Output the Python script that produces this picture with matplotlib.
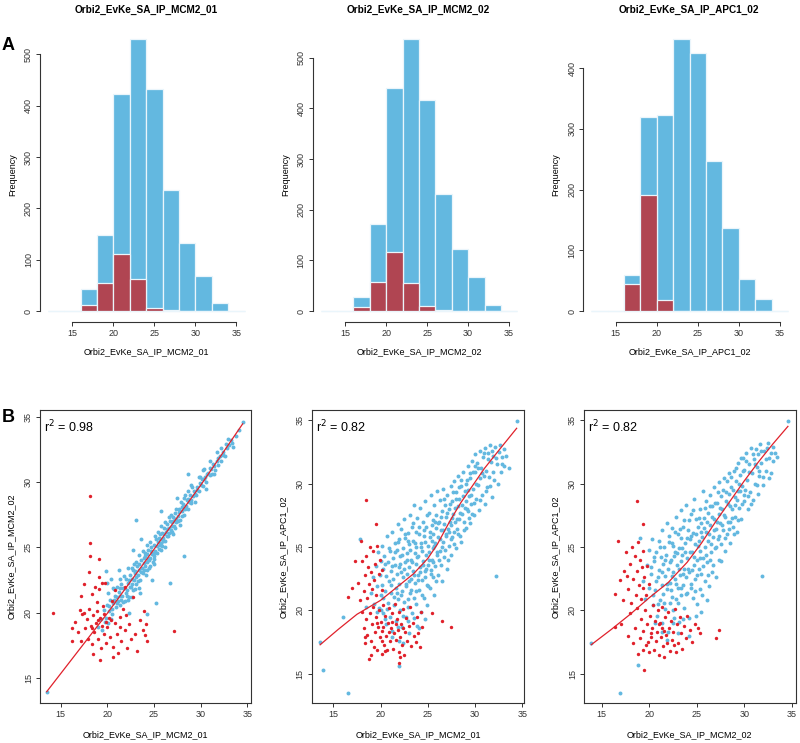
"""
Histogram + pairwise scatter panels for three Orbi2 EvKe SA IP runs.
Top row (A): intensity histograms, all proteins (blue) and flagged (red).
Bottom row (B): pairwise scatter with loess fit and r^2.
"""

import matplotlib
matplotlib.use("Agg")
import matplotlib.pyplot as plt
import numpy as np

plt.rcParams["font.family"] = ["Liberation Sans", "DejaVu Sans"]

BLUE = "#63b8e0"
RED_BAR = "#b04552"
RED_PT = "#e0212b"
EDGE = "#eaf5fb"
AXC = "#333333"

# ---------------------------------------------------------------------------
# Data
# ---------------------------------------------------------------------------

run_names = ["Orbi2_EvKe_SA_IP_MCM2_01", "Orbi2_EvKe_SA_IP_MCM2_02",
             "Orbi2_EvKe_SA_IP_APC1_02"]

bin_edges = [12, 14, 16, 18, 20, 22, 24, 26, 28, 30, 32, 34, 36]

hist_all_mcm2_01 = [1, 1, 43, 148, 422, 530, 433, 235, 133, 68, 15, 1]
hist_red_mcm2_01 = [0, 0, 12, 54, 112, 62, 7, 3, 0, 0, 0, 0]
hist_all_mcm2_02 = [0, 0, 27, 172, 441, 537, 417, 231, 122, 68, 12, 1]
hist_red_mcm2_02 = [0, 0, 8, 58, 117, 56, 10, 2, 0, 0, 0, 0]
hist_all_apc1_02 = [0, 1, 60, 320, 322, 448, 425, 247, 136, 53, 20, 1]
hist_red_apc1_02 = [0, 0, 44, 191, 18, 0, 0, 0, 0, 0, 0, 0]

hist_ymax = [500, 500, 400]

# scatter 1: MCM2_01 (x) vs MCM2_02 (y)
s1_blue = [
    (13.5, 13.9), (19.3, 19.5), (19.6, 20.2), (19.9, 19.6), (20.0, 20.6), (20.2, 20.1),
    (20.3, 21.0), (20.5, 19.9), (20.6, 20.7), (20.8, 21.3), (20.9, 20.4), (21.0, 22.0),
    (21.1, 20.9), (21.2, 21.6), (21.4, 20.6), (21.5, 22.2), (21.6, 21.3), (21.8, 21.9),
    (21.9, 20.9), (22.0, 22.6), (22.1, 21.7), (22.2, 22.3), (22.3, 21.2), (22.4, 22.9),
    (22.5, 22.0), (22.6, 22.6), (22.7, 21.7), (22.8, 23.3), (22.9, 22.5), (23.0, 23.0),
    (23.1, 22.2), (23.2, 23.6), (23.3, 22.9), (23.4, 23.3), (23.5, 22.5), (23.6, 24.0),
    (23.7, 23.4), (23.8, 23.0), (23.9, 24.2), (24.0, 23.6), (24.1, 22.9), (24.2, 24.5),
    (24.3, 23.9), (24.4, 24.8), (24.5, 23.4), (24.6, 24.2), (24.7, 25.0), (24.8, 24.5),
    (24.9, 23.9), (25.0, 25.2), (25.1, 24.7), (25.2, 25.6), (25.3, 24.6), (25.4, 25.4),
    (25.5, 24.9), (25.6, 26.0), (25.7, 25.3), (25.8, 24.8), (25.9, 26.1), (26.0, 25.7),
    (26.1, 26.5), (26.2, 25.5), (26.3, 26.2), (26.4, 26.8), (26.5, 25.9), (26.6, 26.5),
    (26.7, 27.0), (26.8, 26.3), (26.9, 26.9), (27.0, 27.3), (27.1, 26.6), (27.2, 27.2),
    (27.3, 27.6), (27.4, 26.9), (27.6, 27.4), (27.7, 27.9), (27.8, 27.1), (28.0, 27.8),
    (28.1, 28.3), (28.2, 27.5), (28.4, 28.2), (28.5, 28.6), (28.6, 27.9), (28.8, 28.5),
    (28.9, 29.0), (29.0, 28.4), (29.2, 28.9), (29.3, 29.3), (29.5, 29.0), (29.6, 29.6),
    (29.8, 29.3), (30.0, 29.8), (30.1, 30.2), (30.3, 29.7), (30.5, 30.4), (30.6, 30.0),
    (30.8, 30.7), (31.0, 30.5), (31.1, 31.0), (31.3, 31.4), (31.5, 30.9), (31.7, 31.6),
    (31.9, 31.3), (32.1, 32.0), (32.4, 32.3), (32.6, 32.0), (32.8, 32.6), (33.0, 32.8),
    (33.2, 33.2), (34.5, 34.6),
    (23.1, 27.1), (28.6, 30.6), (28.2, 24.3), (26.7, 22.3), (25.2, 20.7), (24.2, 19.9),
    (19.8, 23.2), (20.4, 22.6), (21.2, 23.3), (20.0, 22.3), (22.8, 24.8), (23.6, 25.6),
    (25.8, 27.8), (27.5, 28.8), (22.3, 20.0), (23.5, 21.5), (24.8, 22.5),
    (21.3, 21.9), (21.7, 20.8), (22.2, 21.0), (22.6, 23.4), (23.1, 23.9), (23.4, 21.9),
    (23.9, 23.3), (24.3, 25.2), (24.6, 23.6), (25.1, 25.9), (25.5, 25.7), (25.9, 25.1),
    (26.4, 25.9), (26.8, 27.5), (27.3, 26.5), (27.9, 28.5), (28.3, 29.0), (29.1, 29.6),
    (29.9, 30.4), (30.4, 31.0), (31.2, 30.6), (32.2, 31.6), (32.9, 33.3), (33.5, 32.7),
    (20.7, 21.8), (21.5, 21.0), (22.4, 22.0), (22.9, 23.7), (23.3, 22.4), (24.0, 24.6),
    (24.5, 24.0), (25.0, 24.3), (25.6, 25.2), (26.2, 26.9), (26.9, 26.2), (27.6, 27.0),
]
s1_blue_core = [
    (20.15, 20.5), (20.45, 20.3), (20.75, 21.0), (21.05, 20.7), (21.35, 21.3), (21.65, 21.9),
    (21.95, 21.5), (22.05, 21.3), (22.35, 22.5), (22.65, 22.2), (22.95, 23.2), (23.05, 22.7),
    (23.35, 23.7), (23.65, 23.1), (23.95, 23.8), (24.05, 24.3), (24.35, 24.1), (24.65, 24.7),
    (24.95, 24.6), (25.05, 24.1), (25.35, 25.1), (25.65, 25.6), (25.95, 25.5), (26.05, 26.0),
    (26.35, 26.4), (26.65, 26.1), (26.95, 26.6), (27.05, 27.0), (27.35, 27.2), (27.65, 27.7),
    (27.95, 27.4), (28.05, 28.1), (28.35, 27.9), (28.65, 28.7), (28.95, 28.6), (29.35, 29.1),
    (29.65, 29.4), (29.95, 29.9), (30.35, 30.2), (30.65, 30.6), (31.05, 31.1), (31.45, 31.2),
    (31.85, 31.8), (32.35, 32.1), (32.75, 32.9), (33.35, 33.0), (33.8, 33.5), (34.1, 34.0),
    (20.1, 21.5), (20.6, 21.9), (21.0, 21.2), (21.4, 22.6), (21.8, 22.8), (22.2, 23.4),
    (22.6, 21.2), (23.0, 21.8), (23.4, 24.4), (23.8, 24.7), (24.2, 23.3), (24.6, 25.4),
    (25.0, 23.7), (25.4, 26.2), (25.8, 26.6), (26.2, 25.0), (26.6, 27.3), (27.0, 26.0),
    (27.4, 27.9), (27.8, 26.7), (28.2, 28.8), (28.6, 29.3), (29.0, 29.8), (29.4, 28.5),
    (29.8, 30.4), (30.2, 30.9), (30.6, 29.5), (31.0, 31.6), (31.4, 30.6), (31.8, 32.3),
    (32.2, 32.6), (19.0, 18.9), (19.4, 18.7), (19.7, 19.3), (20.1, 19.2), (20.4, 19.5),
]
s1_red = [
    (18.1, 28.9), (18.1, 25.3), (18.1, 24.3), (19.1, 24.1), (18.0, 23.1), (19.1, 22.7),
    (19.4, 22.3), (17.2, 21.3), (14.2, 20.0), (16.2, 18.8), (16.2, 17.8), (16.5, 19.3),
    (17.1, 20.2), (17.3, 19.9), (17.5, 20.0), (17.6, 18.8), (17.8, 19.5), (17.9, 18.0),
    (18.0, 20.3), (18.2, 19.0), (18.3, 17.6), (18.4, 21.4), (18.5, 19.8), (18.6, 18.5),
    (18.7, 22.0), (18.8, 19.2), (18.9, 20.1), (19.0, 18.0), (19.1, 21.8), (19.2, 19.6),
    (19.3, 17.3), (19.4, 19.0), (19.5, 20.5), (19.6, 18.4), (19.7, 22.3), (19.8, 19.3),
    (19.9, 17.7), (20.0, 18.9), (20.2, 19.6), (20.3, 18.1), (20.5, 20.9), (20.6, 17.4),
    (20.8, 19.2), (21.0, 18.4), (21.1, 16.9), (21.3, 19.7), (21.5, 17.8), (21.7, 20.3),
    (21.9, 18.7), (22.1, 17.3), (22.3, 19.1), (22.5, 18.0), (22.7, 21.2), (23.0, 18.4),
    (23.2, 17.1), (23.5, 19.4), (23.8, 18.7), (24.1, 19.1), (24.3, 17.8), (27.1, 18.6),
    (18.5, 16.8), (19.2, 16.4), (20.6, 16.6), (17.2, 17.8), (16.8, 18.5), (17.5, 22.2),
    (20.8, 21.7), (21.9, 22.0), (18.9, 20.8), (19.6, 19.9), (20.4, 19.4), (18.4, 18.8),
    (19.0, 19.4), (21.4, 18.9), (22.0, 19.8), (23.9, 20.1), (24.0, 18.3),
]

# scatter 2: MCM2_01 (x) vs APC1_02 (y)
s2_blue = [
    (13.6, 17.5), (13.9, 15.3), (16.6, 13.5), (16.0, 19.5), (17.8, 25.6), (18.5, 20.3),
    (19.0, 21.4), (19.2, 22.6), (19.3, 20.5), (19.5, 23.5), (19.6, 21.9), (19.7, 24.6),
    (19.8, 20.2), (19.9, 22.8), (20.0, 23.9), (20.0, 21.2),
    (20.1, 25.1), (20.2, 22.0), (20.3, 19.8), (20.3, 23.3), (20.4, 24.3), (20.5, 21.5),
    (20.6, 22.7), (20.6, 18.9), (20.7, 25.9), (20.8, 23.8), (20.8, 20.6), (20.9, 22.3),
    (21.0, 24.7), (21.0, 19.5),
    (21.1, 21.4), (21.1, 23.1), (21.2, 26.2), (21.2, 18.4), (21.3, 22.5), (21.3, 24.1),
    (21.4, 20.4), (21.5, 25.3), (21.5, 23.6), (21.6, 21.8), (21.6, 19.2), (21.7, 24.8),
    (21.7, 22.9), (21.8, 26.8), (21.8, 20.9), (21.9, 23.4), (21.9, 17.6), (22.0, 25.6),
    (22.0, 22.1), (22.0, 15.6),
    (22.1, 24.3), (22.1, 20.0), (22.2, 23.0), (22.2, 26.4), (22.3, 21.5), (22.3, 18.7),
    (22.4, 24.9), (22.4, 22.6), (22.5, 27.2), (22.5, 20.7), (22.6, 23.8), (22.6, 25.7),
    (22.7, 21.9), (22.7, 19.5), (22.8, 24.5), (22.8, 22.9), (22.9, 26.1), (22.9, 20.3),
    (23.0, 23.4), (23.0, 25.2), (23.0, 18.2),
    (23.1, 21.4), (23.1, 27.5), (23.2, 24.0), (23.2, 22.5), (23.3, 26.6), (23.3, 19.8),
    (23.4, 23.1), (23.4, 25.5), (23.5, 21.0), (23.5, 28.3), (23.6, 24.5), (23.6, 22.2),
    (23.7, 26.2), (23.7, 20.5), (23.8, 23.7), (23.8, 25.0), (23.9, 18.8), (23.9, 27.3),
    (24.0, 22.8), (24.0, 24.3),
    (24.1, 26.0), (24.1, 21.6), (24.2, 23.4), (24.2, 28.1), (24.3, 25.3), (24.3, 19.9),
    (24.4, 24.7), (24.4, 22.4), (24.5, 27.0), (24.5, 23.9), (24.6, 21.0), (24.6, 25.9),
    (24.7, 23.1), (24.7, 28.6), (24.8, 24.4), (24.8, 26.6), (24.9, 22.0), (24.9, 20.4),
    (25.0, 25.1), (25.0, 23.6),
    (25.1, 27.7), (25.1, 24.6), (25.2, 21.8), (25.2, 26.2), (25.3, 23.2), (25.3, 29.1),
    (25.4, 25.5), (25.4, 24.0), (25.5, 27.1), (25.5, 22.6), (25.6, 26.0), (25.6, 24.9),
    (25.7, 28.3), (25.7, 21.2), (25.8, 25.3), (25.8, 23.5), (25.9, 27.5), (25.9, 26.5),
    (26.0, 24.4), (26.0, 29.4),
    (26.1, 25.8), (26.1, 22.8), (26.2, 27.0), (26.3, 24.7), (26.3, 28.7), (26.4, 26.3),
    (26.4, 23.6), (26.5, 27.8), (26.6, 25.4), (26.6, 29.6), (26.7, 26.8), (26.7, 24.2),
    (26.8, 28.3), (26.9, 25.9), (26.9, 27.4), (27.0, 23.3), (27.0, 29.1),
    (27.1, 26.4), (27.2, 28.0), (27.2, 25.1), (27.3, 27.0), (27.4, 29.8), (27.4, 24.4),
    (27.5, 26.7), (27.6, 28.6), (27.6, 25.8), (27.7, 27.6), (27.8, 30.2), (27.8, 26.2),
    (27.9, 28.1), (28.0, 24.9), (28.0, 29.3),
    (28.1, 27.2), (28.2, 30.6), (28.2, 26.0), (28.3, 28.8), (28.4, 27.7), (28.5, 29.8),
    (28.5, 25.4), (28.6, 28.3), (28.7, 30.9), (28.8, 27.0), (28.9, 29.4), (29.0, 26.5),
    (29.0, 28.6),
    (29.1, 30.3), (29.2, 27.8), (29.3, 31.4), (29.4, 29.0), (29.5, 26.9), (29.5, 30.8),
    (29.6, 28.4), (29.7, 31.8), (29.8, 29.6), (29.9, 27.5), (30.0, 30.9), (30.0, 32.3),
    (30.1, 28.8), (30.2, 31.6), (30.3, 29.9), (30.4, 27.9), (30.5, 32.6), (30.5, 30.4),
    (30.6, 31.2), (30.7, 29.1), (30.8, 32.1), (30.9, 30.6), (31.0, 28.4),
    (31.1, 32.8), (31.2, 31.0), (31.3, 29.7), (31.4, 32.4), (31.5, 30.5), (31.6, 33.0),
    (31.7, 31.7), (31.8, 28.9), (31.9, 32.2), (32.0, 30.3),
    (32.1, 32.9), (32.2, 22.7), (32.3, 31.5), (32.5, 32.5), (32.7, 30.9), (32.9, 32.1),
    (33.1, 31.4), (33.3, 32.2), (33.6, 31.2), (34.4, 34.9),
]
s2_blue_core = [
    (20.25, 21.0), (20.45, 23.7), (20.65, 20.1), (20.85, 24.9), (21.05, 22.0), (21.25, 23.5),
    (21.45, 21.1), (21.55, 24.6), (21.75, 21.4), (21.85, 25.4), (22.05, 23.7), (22.15, 21.2),
    (22.25, 24.4), (22.35, 19.6), (22.45, 23.3), (22.55, 26.0), (22.65, 22.1), (22.75, 24.0),
    (22.85, 20.9), (22.95, 25.5), (23.05, 22.3), (23.15, 24.8), (23.25, 21.6), (23.35, 23.8),
    (23.45, 26.9), (23.55, 22.8), (23.65, 25.3), (23.75, 21.5), (23.85, 24.2), (23.95, 22.4),
    (24.05, 26.6), (24.15, 23.0), (24.25, 25.0), (24.35, 21.2), (24.45, 23.6), (24.55, 26.3),
    (24.65, 22.6), (24.75, 25.4), (24.85, 23.3), (24.95, 27.5), (25.05, 21.9), (25.15, 24.0),
    (25.25, 25.8), (25.35, 22.9), (25.45, 26.7), (25.55, 23.8), (25.65, 25.1), (25.75, 27.0),
    (25.85, 22.3), (25.95, 24.6), (26.05, 26.9), (26.15, 24.0), (26.25, 25.6), (26.35, 27.4),
    (26.45, 22.3), (26.55, 25.0), (26.65, 26.3), (26.75, 28.8), (26.85, 24.8), (26.95, 26.0),
    (27.05, 27.7), (27.15, 24.0), (27.25, 26.2), (27.35, 28.4), (27.45, 25.6), (27.55, 27.3),
    (27.65, 29.3), (27.75, 25.2), (27.85, 27.0), (27.95, 28.8), (28.05, 26.4), (28.15, 28.2),
    (28.25, 29.7), (28.35, 27.2), (28.45, 25.9), (28.55, 30.3), (28.65, 27.6), (28.75, 29.0),
    (28.85, 26.3), (28.95, 28.1), (29.05, 30.0), (29.15, 28.0), (29.25, 29.5), (29.35, 27.3),
    (29.45, 30.4), (29.55, 29.1), (29.65, 27.6), (29.75, 30.9), (29.85, 28.5), (29.95, 31.4),
    (30.15, 30.0), (30.35, 31.2), (30.55, 28.7), (30.75, 30.8), (30.95, 32.4), (31.15, 29.4),
    (31.35, 31.9), (31.55, 29.8), (31.75, 32.6), (31.95, 30.9), (32.25, 32.0), (32.45, 30.0),
    (32.65, 33.0), (32.85, 31.5), (33.05, 32.7),
    (20.5, 19.3), (21.2, 17.9), (21.8, 18.7), (22.4, 17.4), (22.9, 19.2), (23.5, 19.4),
    (24.1, 18.6), (24.7, 19.3), (20.0, 20.0), (19.6, 19.9),
]
s2_red = [
    (18.0, 19.9), (18.2, 18.6), (18.3, 17.4), (18.5, 19.3), (18.6, 18.1), (18.8, 16.2),
    (18.9, 19.8), (19.0, 17.6), (19.1, 18.9), (19.2, 20.3), (19.3, 17.1), (19.4, 18.3),
    (19.5, 19.5), (19.6, 16.9), (19.7, 18.7), (19.8, 20.0), (19.9, 17.9), (20.0, 19.1),
    (20.1, 16.6), (20.2, 18.4), (20.3, 20.4), (20.4, 17.3), (20.5, 19.6), (20.6, 18.0),
    (20.7, 16.9), (20.8, 19.0), (20.9, 20.2), (21.0, 17.6), (21.1, 18.6), (21.2, 19.8),
    (21.3, 17.0), (21.4, 18.2), (21.5, 20.5), (21.6, 17.7), (21.7, 19.3), (21.8, 18.5),
    (21.9, 16.7), (22.0, 19.9), (22.1, 17.9), (22.2, 18.9), (22.3, 17.3), (22.4, 20.1),
    (22.5, 16.5), (22.6, 18.3), (22.7, 19.4), (22.8, 17.6), (23.0, 18.8), (23.1, 20.3),
    (23.2, 17.2), (23.4, 19.0), (23.5, 18.0), (23.7, 17.5), (23.9, 19.5), (24.0, 18.2),
    (24.2, 17.1), (24.4, 18.7), (24.3, 19.9), (25.4, 19.8), (26.5, 19.2), (27.4, 18.7),
    (22.0, 15.9), (22.1, 16.3), (20.5, 16.8), (19.0, 16.5), (21.2, 19.1), (20.3, 18.7),
    (18.4, 17.9), (19.6, 19.0), (20.9, 18.3), (21.6, 18.9), (22.4, 18.6), (20.1, 17.6),
    (16.5, 21.1), (17.0, 21.8), (17.3, 23.9), (17.6, 22.2), (17.8, 20.8), (18.0, 23.9),
    (18.2, 21.5), (18.4, 22.8), (18.5, 24.3), (18.6, 21.0), (18.7, 23.4), (18.8, 22.1),
    (18.9, 25.0), (19.0, 23.0), (19.1, 21.7), (19.2, 24.7), (19.3, 22.4), (19.4, 23.7),
    (19.5, 21.2), (19.6, 25.1), (19.8, 22.9), (19.9, 24.0), (20.1, 23.2), (20.2, 21.6),
    (19.5, 26.8), (18.5, 28.7), (17.9, 25.5),
]

# scatter 3: MCM2_02 (x) vs APC1_02 (y)
s3_blue = [
    (13.9, 17.4), (16.9, 13.5), (18.8, 15.7), (19.0, 25.7), (19.4, 22.3), (19.6, 20.9),
    (19.8, 23.6), (20.0, 24.8), (20.0, 21.8),
    (20.2, 22.9), (20.3, 25.6), (20.4, 20.4), (20.5, 23.9), (20.6, 21.6), (20.7, 24.6),
    (20.8, 19.6), (20.9, 22.6), (21.0, 25.5), (21.0, 23.2),
    (21.1, 20.8), (21.2, 24.2), (21.3, 22.0), (21.3, 26.3), (21.4, 19.0), (21.5, 23.7),
    (21.5, 21.3), (21.6, 25.0), (21.7, 22.7), (21.7, 20.1), (21.8, 24.4), (21.9, 26.9),
    (21.9, 21.7), (22.0, 23.3), (22.0, 18.3),
    (22.1, 25.4), (22.2, 22.2), (22.2, 20.6), (22.3, 24.0), (22.4, 26.5), (22.4, 21.1),
    (22.5, 23.0), (22.5, 25.1), (22.6, 19.4), (22.7, 22.5), (22.7, 24.6), (22.8, 27.4),
    (22.8, 20.9), (22.9, 23.6), (23.0, 21.8), (23.0, 26.0),
    (23.1, 24.9), (23.1, 19.1), (23.2, 22.8), (23.3, 25.7), (23.3, 23.9), (23.4, 21.2),
    (23.4, 27.9), (23.5, 24.4), (23.6, 22.0), (23.6, 26.6), (23.7, 23.3), (23.7, 20.2),
    (23.8, 25.3), (23.9, 22.6), (23.9, 28.3), (24.0, 24.1), (24.0, 21.4),
    (24.1, 26.3), (24.2, 23.0), (24.2, 19.4), (24.3, 25.6), (24.4, 22.1), (24.4, 27.6),
    (24.5, 24.6), (24.6, 21.0), (24.6, 26.1), (24.7, 23.6), (24.7, 28.8), (24.8, 25.2),
    (24.8, 22.5), (24.9, 27.2), (25.0, 24.0), (25.0, 20.5),
    (25.1, 26.6), (25.2, 23.3), (25.2, 25.5), (25.3, 28.0), (25.3, 21.7), (25.4, 24.7),
    (25.5, 26.9), (25.5, 22.9), (25.6, 25.8), (25.7, 29.4), (25.7, 24.1), (25.8, 27.3),
    (25.9, 22.3), (25.9, 25.0), (26.0, 28.6), (26.0, 26.2),
    (26.1, 23.8), (26.2, 27.7), (26.2, 25.5), (26.3, 21.9), (26.4, 29.1), (26.4, 26.7),
    (26.5, 24.6), (26.6, 28.2), (26.6, 23.0), (26.7, 25.8), (26.8, 27.2), (26.8, 29.7),
    (26.9, 24.9), (27.0, 26.4), (27.0, 22.6),
    (27.1, 28.5), (27.2, 25.6), (27.3, 27.6), (27.3, 30.1), (27.4, 24.0), (27.5, 26.9),
    (27.6, 29.0), (27.6, 25.2), (27.7, 28.0), (27.8, 26.3), (27.9, 30.4), (28.0, 27.4),
    (28.0, 24.7),
    (28.1, 29.3), (28.2, 26.0), (28.3, 28.4), (28.4, 30.8), (28.5, 27.0), (28.5, 25.3),
    (28.6, 29.7), (28.7, 28.0), (28.8, 26.6), (28.9, 31.0), (29.0, 28.9), (29.0, 27.4),
    (29.1, 30.2), (29.2, 26.2), (29.3, 29.4), (29.4, 31.6), (29.5, 28.1), (29.6, 30.7),
    (29.7, 27.2), (29.8, 29.8), (29.9, 32.0), (30.0, 28.6), (30.0, 31.1),
    (30.1, 29.5), (30.2, 32.4), (30.3, 30.3), (30.4, 28.0), (30.5, 31.5), (30.6, 29.3),
    (30.7, 32.8), (30.8, 30.8), (30.9, 28.7), (31.0, 31.9),
    (31.1, 30.0), (31.2, 32.7), (31.3, 31.3), (31.4, 29.2), (31.5, 32.3), (31.6, 30.6),
    (31.7, 33.1), (31.8, 31.6), (31.9, 22.7), (32.0, 29.9),
    (32.1, 32.6), (32.3, 31.0), (32.5, 33.2), (32.6, 32.0), (32.8, 30.8), (33.0, 31.8),
    (33.2, 32.4), (33.4, 32.1), (34.6, 34.9),
]
s3_blue_core = [
    (20.15, 23.4), (20.35, 21.2), (20.55, 24.2), (20.75, 22.3), (20.95, 20.5), (21.15, 25.0),
    (21.35, 23.0), (21.55, 20.6), (21.65, 24.0), (21.85, 22.1), (22.05, 25.9), (22.15, 23.8),
    (22.25, 21.6), (22.35, 25.3), (22.45, 22.7), (22.55, 20.0), (22.65, 24.3), (22.75, 26.2),
    (22.85, 22.1), (22.95, 24.5), (23.05, 20.6), (23.15, 23.3), (23.25, 26.4), (23.35, 21.8),
    (23.45, 24.9), (23.55, 22.9), (23.65, 27.1), (23.75, 24.6), (23.85, 21.3), (23.95, 25.7),
    (24.05, 23.3), (24.15, 27.1), (24.25, 24.6), (24.35, 21.8), (24.45, 25.9), (24.55, 23.2),
    (24.65, 27.9), (24.75, 24.2), (24.85, 21.5), (24.95, 26.0), (25.05, 22.8), (25.15, 25.1),
    (25.25, 27.3), (25.35, 24.1), (25.45, 26.2), (25.55, 21.2), (25.65, 23.5), (25.75, 26.5),
    (25.85, 28.1), (25.95, 24.4), (26.05, 27.0), (26.15, 22.8), (26.25, 26.0), (26.35, 28.2),
    (26.45, 24.0), (26.55, 25.2), (26.65, 27.4), (26.75, 23.6), (26.85, 26.3), (26.95, 28.5),
    (27.05, 25.0), (27.15, 27.0), (27.25, 29.3), (27.35, 25.9), (27.45, 28.1), (27.55, 23.9),
    (27.65, 26.7), (27.75, 29.5), (27.85, 27.5), (27.95, 25.7), (28.05, 28.6), (28.15, 30.2),
    (28.25, 27.0), (28.35, 29.2), (28.45, 26.4), (28.55, 28.2), (28.65, 30.5), (28.75, 27.3),
    (28.85, 29.5), (28.95, 26.0), (29.05, 28.3), (29.15, 31.2), (29.25, 28.7), (29.35, 27.1),
    (29.45, 30.0), (29.55, 29.4), (29.65, 32.0), (29.75, 28.4), (29.85, 31.0), (29.95, 29.1),
    (30.15, 31.8), (30.35, 29.0), (30.55, 30.9), (30.75, 28.4), (30.95, 32.3), (31.15, 31.5),
    (31.35, 29.9), (31.55, 31.0), (31.75, 32.6), (31.95, 30.5), (32.25, 31.9), (32.45, 32.8),
    (32.65, 30.4), (32.85, 32.4), (33.05, 32.9),
    (20.6, 19.0), (21.3, 18.3), (21.9, 17.7), (22.5, 19.0), (23.0, 18.2), (23.6, 19.3),
    (24.2, 18.0), (24.9, 19.6), (25.5, 19.9), (26.1, 20.8),
]
s3_red = [
    (16.4, 21.3), (16.7, 25.5), (16.9, 22.4), (17.2, 20.8), (17.4, 23.1), (17.6, 24.6),
    (17.8, 21.7), (18.0, 23.7), (18.1, 20.6), (18.2, 25.0), (18.3, 22.5), (18.5, 24.3),
    (18.6, 21.2), (18.7, 23.1), (18.8, 25.4), (18.9, 22.0), (19.0, 24.0), (19.1, 20.9),
    (19.2, 23.4), (19.3, 21.8), (19.4, 24.7), (19.5, 22.6), (19.7, 21.2), (19.8, 23.5),
    (20.0, 22.1), (18.7, 28.6), (19.3, 26.8), (17.7, 22.7),
    (16.4, 18.7), (17.0, 18.9), (17.8, 18.0), (18.0, 19.8), (18.3, 17.4), (18.5, 18.6),
    (18.7, 20.2), (18.8, 16.6), (19.0, 17.8), (19.1, 19.3), (19.3, 16.9), (19.4, 18.4),
    (19.5, 15.3), (19.6, 20.0), (19.7, 17.3), (19.8, 18.9), (20.0, 16.7), (20.1, 19.6),
    (20.2, 17.9), (20.3, 18.6), (20.4, 20.4), (20.5, 16.9), (20.6, 19.2), (20.7, 17.6),
    (20.8, 18.3), (20.9, 20.0), (21.0, 16.5), (21.1, 19.0), (21.2, 17.9), (21.3, 18.6),
    (21.4, 20.3), (21.5, 17.2), (21.6, 16.3), (21.7, 19.5), (21.8, 18.1), (21.9, 17.4),
    (22.0, 19.9), (22.1, 18.6), (22.2, 16.8), (22.3, 19.2), (22.4, 17.7), (22.5, 18.3),
    (22.7, 20.1), (22.8, 16.7), (22.9, 18.9), (23.0, 17.4), (23.2, 19.5), (23.3, 18.2),
    (23.5, 17.0), (23.7, 18.8), (23.9, 17.8), (24.0, 19.6), (24.3, 18.5), (24.5, 17.5),
    (24.8, 18.9), (25.1, 18.6), (25.3, 18.2), (27.0, 17.8), (27.3, 18.5), (20.2, 18.2),
    (21.0, 18.9), (21.6, 18.4), (19.9, 17.5), (22.6, 17.3),
]

# loess fit lines
fit1_x = [13.5, 20.0, 25.0, 30.0, 34.5]
fit1_y = [13.95, 19.95, 24.85, 29.75, 34.45]
fit2_x = [13.6, 15.5, 17.5, 20.0, 22.0, 23.5, 25.0, 26.0, 27.3, 28.5, 29.8, 31.0, 32.5, 34.4]
fit2_y = [17.3, 18.5, 19.7, 20.8, 22.0, 22.9, 24.1, 25.2, 27.0, 28.5, 29.9, 31.2, 32.6, 34.35]
fit3_x = [13.9, 16.0, 18.0, 20.0, 22.0, 24.0, 25.5, 27.0, 28.5, 30.0, 31.5, 33.0, 34.6]
fit3_y = [17.3, 18.5, 19.7, 21.0, 22.2, 23.8, 25.3, 27.0, 28.6, 30.2, 31.7, 33.1, 34.5]

r2_values = ["0.98", "0.82", "0.82"]

# ---------------------------------------------------------------------------
# Figure
# ---------------------------------------------------------------------------

W, H = 800, 743
fig = plt.figure(figsize=(W / 100, H / 100), dpi=100)


def px_axes(left, top, width, height):
    return fig.add_axes([left / W, 1 - (top + height) / H, width / W, height / H])


def style_ticks(ax):
    ax.tick_params(axis="both", labelsize=6.5, length=3, width=0.7,
                   colors=AXC, pad=2)
    for lab in ax.get_yticklabels():
        lab.set_rotation(90)
        lab.set_va("center")


# --- histograms ---
hist_left = [40, 312.7, 583.3]
hist_all = [hist_all_mcm2_01, hist_all_mcm2_02, hist_all_apc1_02]
hist_red = [hist_red_mcm2_01, hist_red_mcm2_02, hist_red_apc1_02]
edges = np.array(bin_edges)

for i in range(3):
    ax = px_axes(hist_left[i], 28, 212.5, 294)
    allc = np.array(hist_all[i])
    redc = np.array(hist_red[i])
    ax.bar(edges[:-1], allc, width=2, align="edge", color=BLUE,
           edgecolor=EDGE, linewidth=0.9)
    ax.bar(edges[:-1], redc, width=2, align="edge", color=RED_BAR,
           edgecolor=EDGE, linewidth=0.9)
    m = allc.max()
    ax.set_xlim(11.04, 36.96)
    ax.set_ylim(-0.04 * m, 1.04 * m)
    for s in ["top", "right"]:
        ax.spines[s].set_visible(False)
    ax.spines["left"].set_bounds(0, hist_ymax[i])
    ax.spines["bottom"].set_bounds(15, 35)
    for s in ["left", "bottom"]:
        ax.spines[s].set_color(AXC)
        ax.spines[s].set_linewidth(0.8)
    ax.set_xticks([15, 20, 25, 30, 35])
    ax.set_yticks(np.arange(0, hist_ymax[i] + 1, 100))
    style_ticks(ax)
    ax.set_xlabel(run_names[i], fontsize=6.5, labelpad=7)
    ax.set_ylabel("Frequency", fontsize=6.5, labelpad=5)
    fig.text((hist_left[i] + 106) / W, 1 - 10 / H, run_names[i],
             fontsize=7.2, fontweight="bold", ha="center", va="center")

# --- scatters ---
sc_left = [40, 311.7, 584]
sc_width = [210.7, 212.6, 211.7]
sc_xlim = [(12.78, 35.36), (12.71, 35.21), (13.14, 35.42)]
sc_ylim = [(13.06, 35.51), (12.69, 35.79), (12.69, 35.79)]
sc_blue = [s1_blue + s1_blue_core, s2_blue + s2_blue_core, s3_blue + s3_blue_core]
sc_red = [s1_red, s2_red, s3_red]
fits = [(fit1_x, fit1_y), (fit2_x, fit2_y), (fit3_x, fit3_y)]
sc_xlab = [run_names[0], run_names[0], run_names[1]]
sc_ylab = [run_names[1], run_names[2], run_names[2]]

for i in range(3):
    ax = px_axes(sc_left[i], 410, sc_width[i], 293.3)
    b = np.array(sc_blue[i])
    r = np.array(sc_red[i])
    ax.scatter(b[:, 0], b[:, 1], s=8, color=BLUE, linewidths=0)
    ax.scatter(r[:, 0], r[:, 1], s=6, color=RED_PT, linewidths=0)
    ax.plot(fits[i][0], fits[i][1], color=RED_PT, lw=0.9)
    ax.set_xlim(*sc_xlim[i])
    ax.set_ylim(*sc_ylim[i])
    for s in ax.spines.values():
        s.set_color(AXC)
        s.set_linewidth(0.8)
    ax.set_xticks([15, 20, 25, 30, 35])
    ax.set_yticks([15, 20, 25, 30, 35])
    style_ticks(ax)
    ax.set_xlabel(sc_xlab[i], fontsize=6.5, labelpad=8)
    ax.set_ylabel(sc_ylab[i], fontsize=6.5, labelpad=6)
    ax.text(0.018, 0.942, "r$^2$ = " + r2_values[i], transform=ax.transAxes,
            fontsize=9, ha="left", va="center")

fig.text(8 / W, 1 - 45 / H, "A", fontsize=13, fontweight="bold",
         ha="center", va="center")
fig.text(8 / W, 1 - 417 / H, "B", fontsize=13, fontweight="bold",
         ha="center", va="center")

fig.savefig("out.png", dpi=100)
